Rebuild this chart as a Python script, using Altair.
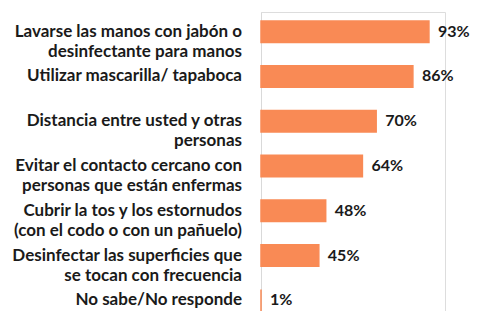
import altair as alt
import pandas as pd

categories = [
    "Lavarse las manos con jabón o\ndesinfectante para manos",
    "Utilizar mascarilla/ tapaboca",
    "Distancia entre usted y otras\npersonas",
    "Evitar el contacto cercano con\npersonas que están enfermas",
    "Cubrir la tos y los estornudos\n(con el codo o con un pañuelo)",
    "Desinfectar las superficies que\nse tocan con frecuencia",
    "No sabe/No responde",
]
values = [93, 86, 70, 64, 48, 45, 1]
value_labels = ["93%", "86%", "70%", "64%", "48%", "45%", "1%"]

df = pd.DataFrame({"cat": categories, "value": values, "label": value_labels})

FONT = "Lato"
TXT = "#1a1a1a"
BAR = "#F98A55"

y_enc = alt.Y(
    "cat:N",
    sort=categories,
    scale=alt.Scale(paddingInner=0.52, paddingOuter=0.2),
    axis=alt.Axis(labels=False, ticks=False, title=None, grid=False,
                  domainColor="#d9d9d9", domainWidth=1),
)
x_scale = alt.Scale(domain=[19.8, 100], clamp=True, nice=False, zero=False)

bars = alt.Chart(df).mark_bar(color=BAR, stroke=BAR, strokeWidth=1.5).encode(
    x=alt.X("value:Q", scale=x_scale, axis=None),
    y=y_enc,
)

vals = alt.Chart(df).mark_text(
    align="left", baseline="middle", dx=9, font=FONT, fontWeight="bold",
    fontSize=16, color=TXT,
).encode(
    x=alt.X("value:Q", scale=x_scale, axis=None),
    y=y_enc,
    text="label:N",
)

cats = alt.Chart(df).mark_text(
    align="right", baseline="middle", font=FONT, fontWeight="bold",
    fontSize=17, color=TXT, lineBreak="\n", lineHeight=20,
).encode(
    x=alt.value(-19),
    y=y_enc,
    text="cat:N",
)

chart = alt.layer(bars, vals, cats).properties(
    width=184,
    height=308,
    padding={"left": 253, "top": 4, "right": 26, "bottom": 0},
    autosize=alt.AutoSizeParams(type="none"),
).configure_view(stroke=None).configure(background="white")

chart.save("out.html", embed_options={"renderer": "svg", "actions": False})
